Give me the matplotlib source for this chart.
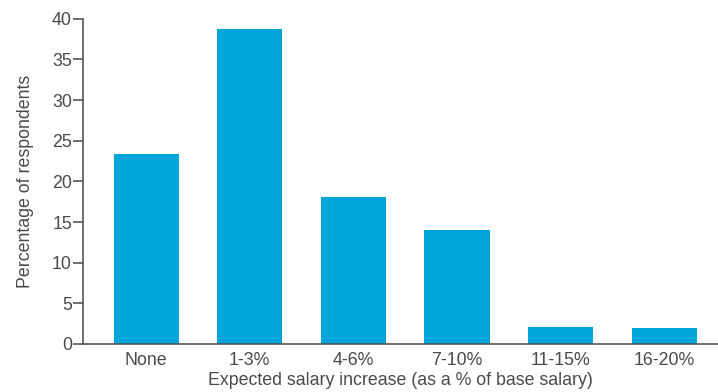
import matplotlib
matplotlib.use("Agg")
import matplotlib.pyplot as plt

categories = ["None", "1-3%", "4-6%", "7-10%", "11-15%", "16-20%"]
values = [23.4, 38.7, 18.1, 14.0, 2.1, 1.95]
yticks = [0, 5, 10, 15, 20, 25, 30, 35, 40]

plt.rcParams['font.family'] = ['Liberation Sans', 'DejaVu Sans']
text_color = "#4a4a4a"
W, H = 718, 392
fig = plt.figure(figsize=(W/100, H/100), dpi=100)
ax = fig.add_axes([83/W, 1-344/H, 1-83/W, (344-18.7)/H])

x = list(range(len(categories)))
ax.bar(x, values, width=0.63, color="#00A5DB", zorder=2)
ax.set_xlim(-0.61, 5.52)
ax.set_ylim(0, 40)
ax.set_yticks(yticks)
ax.set_xticks(x)
ax.set_xticklabels(categories)
for s in ["top", "right"]:
    ax.spines[s].set_visible(False)
for s in ["left", "bottom"]:
    ax.spines[s].set_color("#555555")
    ax.spines[s].set_linewidth(1.2)
ax.tick_params(axis="y", length=7, width=1.2, color="#555555", labelsize=12.8, labelcolor=text_color, pad=1)
ax.tick_params(axis="x", length=0, labelsize=12.8, labelcolor=text_color, pad=6)
ax.set_xlabel("Expected salary increase (as a % of base salary)", fontsize=12.8, color=text_color, labelpad=2)
ax.set_ylabel("Percentage of respondents", fontsize=12.8, color=text_color, labelpad=13)
fig.savefig("out.png", dpi=100)
